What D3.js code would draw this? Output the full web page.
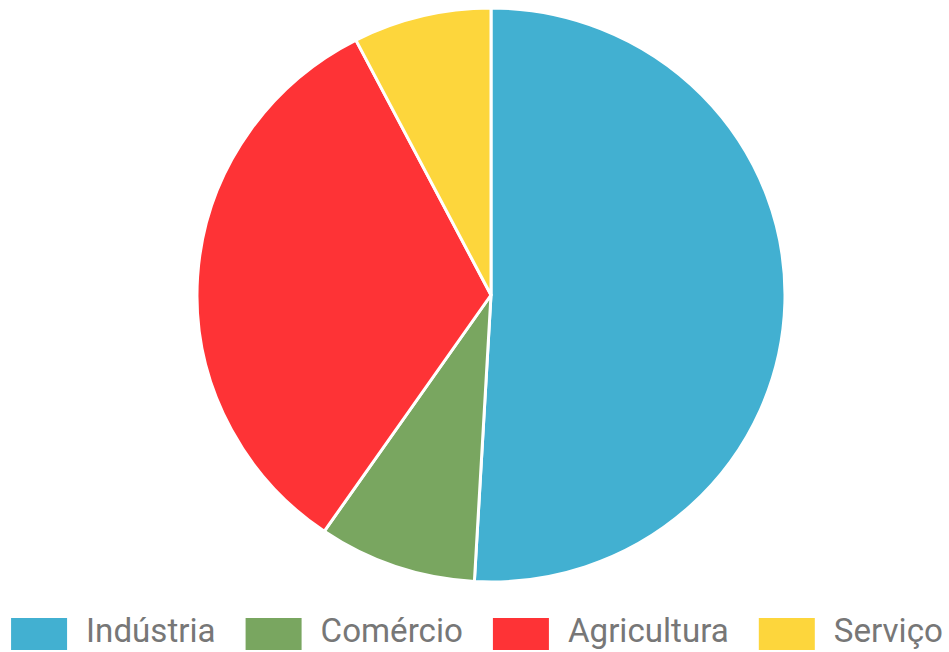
<!DOCTYPE html>
<html>
<head>
<meta charset="utf-8">
<script src="https://cdn.jsdelivr.net/npm/d3@7"></script>
<style>
  body { margin: 0; background: #fff; }
  svg { display: block; }
</style>
</head>
<body>
<svg id="pie" width="949" height="652"></svg>
<script>
const categories = ["Indústria", "Comércio", "Agricultura", "Serviço"];
const values = [50.9, 8.7, 32.8, 7.6];
const colors = ["#42b0d1", "#79a660", "#fe3336", "#fdd63c"];

const svg = d3.select("#pie");
const cx = 491, cy = 295, radius = 294;

const pie = d3.pie().sort(null).value(d => d.value);
const arc = d3.arc().innerRadius(0).outerRadius(radius);

const data = categories.map((c, i) => ({ name: c, value: values[i], color: colors[i] }));

// picture is slightly squashed vertically
const g = svg.append("g")
    .attr("transform", "translate(" + cx + "," + cy + ") scale(1,0.976)");

g.selectAll("path")
    .data(pie(data))
    .enter().append("path")
    .attr("d", arc)
    .attr("fill", d => d.data.color)
    .attr("stroke", "#fff")
    .attr("stroke-width", 3)
    .attr("stroke-linejoin", "round");

// legend
const textScale = 0.975;
const legend = svg.append("g").attr("class", "legend");
const items = legend.selectAll("g")
    .data(data)
    .enter().append("g");

items.append("rect")
    .attr("width", 56)
    .attr("height", 32)
    .attr("y", 618)
    .attr("fill", d => d.color);

items.append("text")
    .attr("transform", "translate(75,642) scale(" + textScale + ",1)")
    .attr("font-family", "Roboto, 'Liberation Sans', sans-serif")
    .attr("font-size", 34)
    .attr("fill", "#777")
    .text(d => d.name);

let x = 0;
const offsets = [];
items.each(function() {
    const w = d3.select(this).select("text").node().getComputedTextLength() * textScale;
    offsets.push(x);
    x += 75 + w + 30;
});
const total = x - 30;
const start = 477 - total / 2;
items.attr("transform", (d, i) => "translate(" + (start + offsets[i]) + ",0)");
</script>
</body>
</html>
